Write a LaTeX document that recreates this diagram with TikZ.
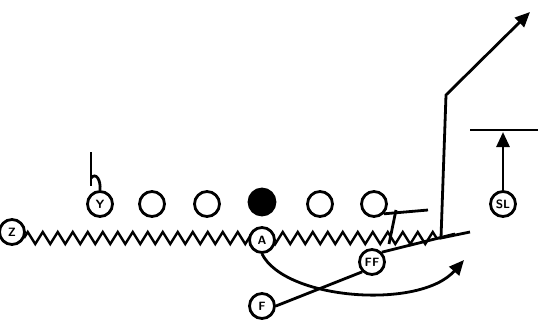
\documentclass[tikz,border=0pt]{standalone}
\usetikzlibrary{decorations.pathmorphing,arrows.meta}
\begin{document}
\begin{tikzpicture}[x=1pt,y=-1pt,line width=2.8pt,
  plr/.style={circle,draw,fill=white,minimum size=25pt,inner sep=0pt,font=\sffamily\bfseries\fontsize{12}{13}\selectfont},
  ctr/.style={circle,draw,fill=black,minimum size=26pt,inner sep=0pt},
  arr/.style={-{Triangle[length=15pt,width=13pt]}}]
\useasboundingbox (0,0) rectangle (538,325);
% zigzag line
\coordinate (zs) at (24,238);
\coordinate (ze) at (440,238);
\draw[line width=2.4pt,decorate,decoration={zigzag,segment length=15pt,amplitude=6pt}] (zs) -- (ze);
% offensive line
\node[plr] (Y) at (100,204) {Y};
\node[plr] (o1) at (152,204) {};
\node[plr] (o2) at (207,204) {};
\node[ctr] (c) at (262,202) {};
\node[plr] (o3) at (320,204) {};
\node[plr] (o4) at (374,204) {};
\node[plr] (Z) at (12,232) {Z};
\node[plr] (A) at (262,240) {A};
\node[plr] (FF) at (372,262) {FF};
\node[plr] (F) at (262,306) {F};
\node[plr] (SL) at (503,204) {SL};
% Y hook
\coordinate (h1) at (91,152);
\coordinate (h2) at (91,186);
\draw (h1) -- (h2);
\draw (91,178) .. controls (96,172) and (101,180) .. (Y.north);
% O4 line
\coordinate (t1) at (428,210);
\coordinate (t2) at (396,210);
\coordinate (t3) at (389,244);
\draw (o4.south east) -- (t1);
\draw (t2) -- (t3);
% L route
\coordinate (L0) at (470,232);
\coordinate (L1) at (441,238);
\coordinate (L2) at (446,95);
\coordinate (L3) at (530,12);
\draw[arr] (L0) -- (L1) -- (L2) -- (L3);
% F line through FF
\coordinate (fe) at (455,234);
\draw (F.east) -- (FF.south west);
\draw (FF.north east) -- (fe);
% A curve
\coordinate (ae) at (464,260);
\draw[arr] (A.south) .. controls (285,300) and (420,310) .. (ae);
% SL arrow
\coordinate (s1) at (503,132);
\coordinate (b1) at (470,130);
\coordinate (b2) at (538,130);
\draw[arr] (SL.north) -- (s1);
\draw (b1) -- (b2);
\end{tikzpicture}
\end{document}
